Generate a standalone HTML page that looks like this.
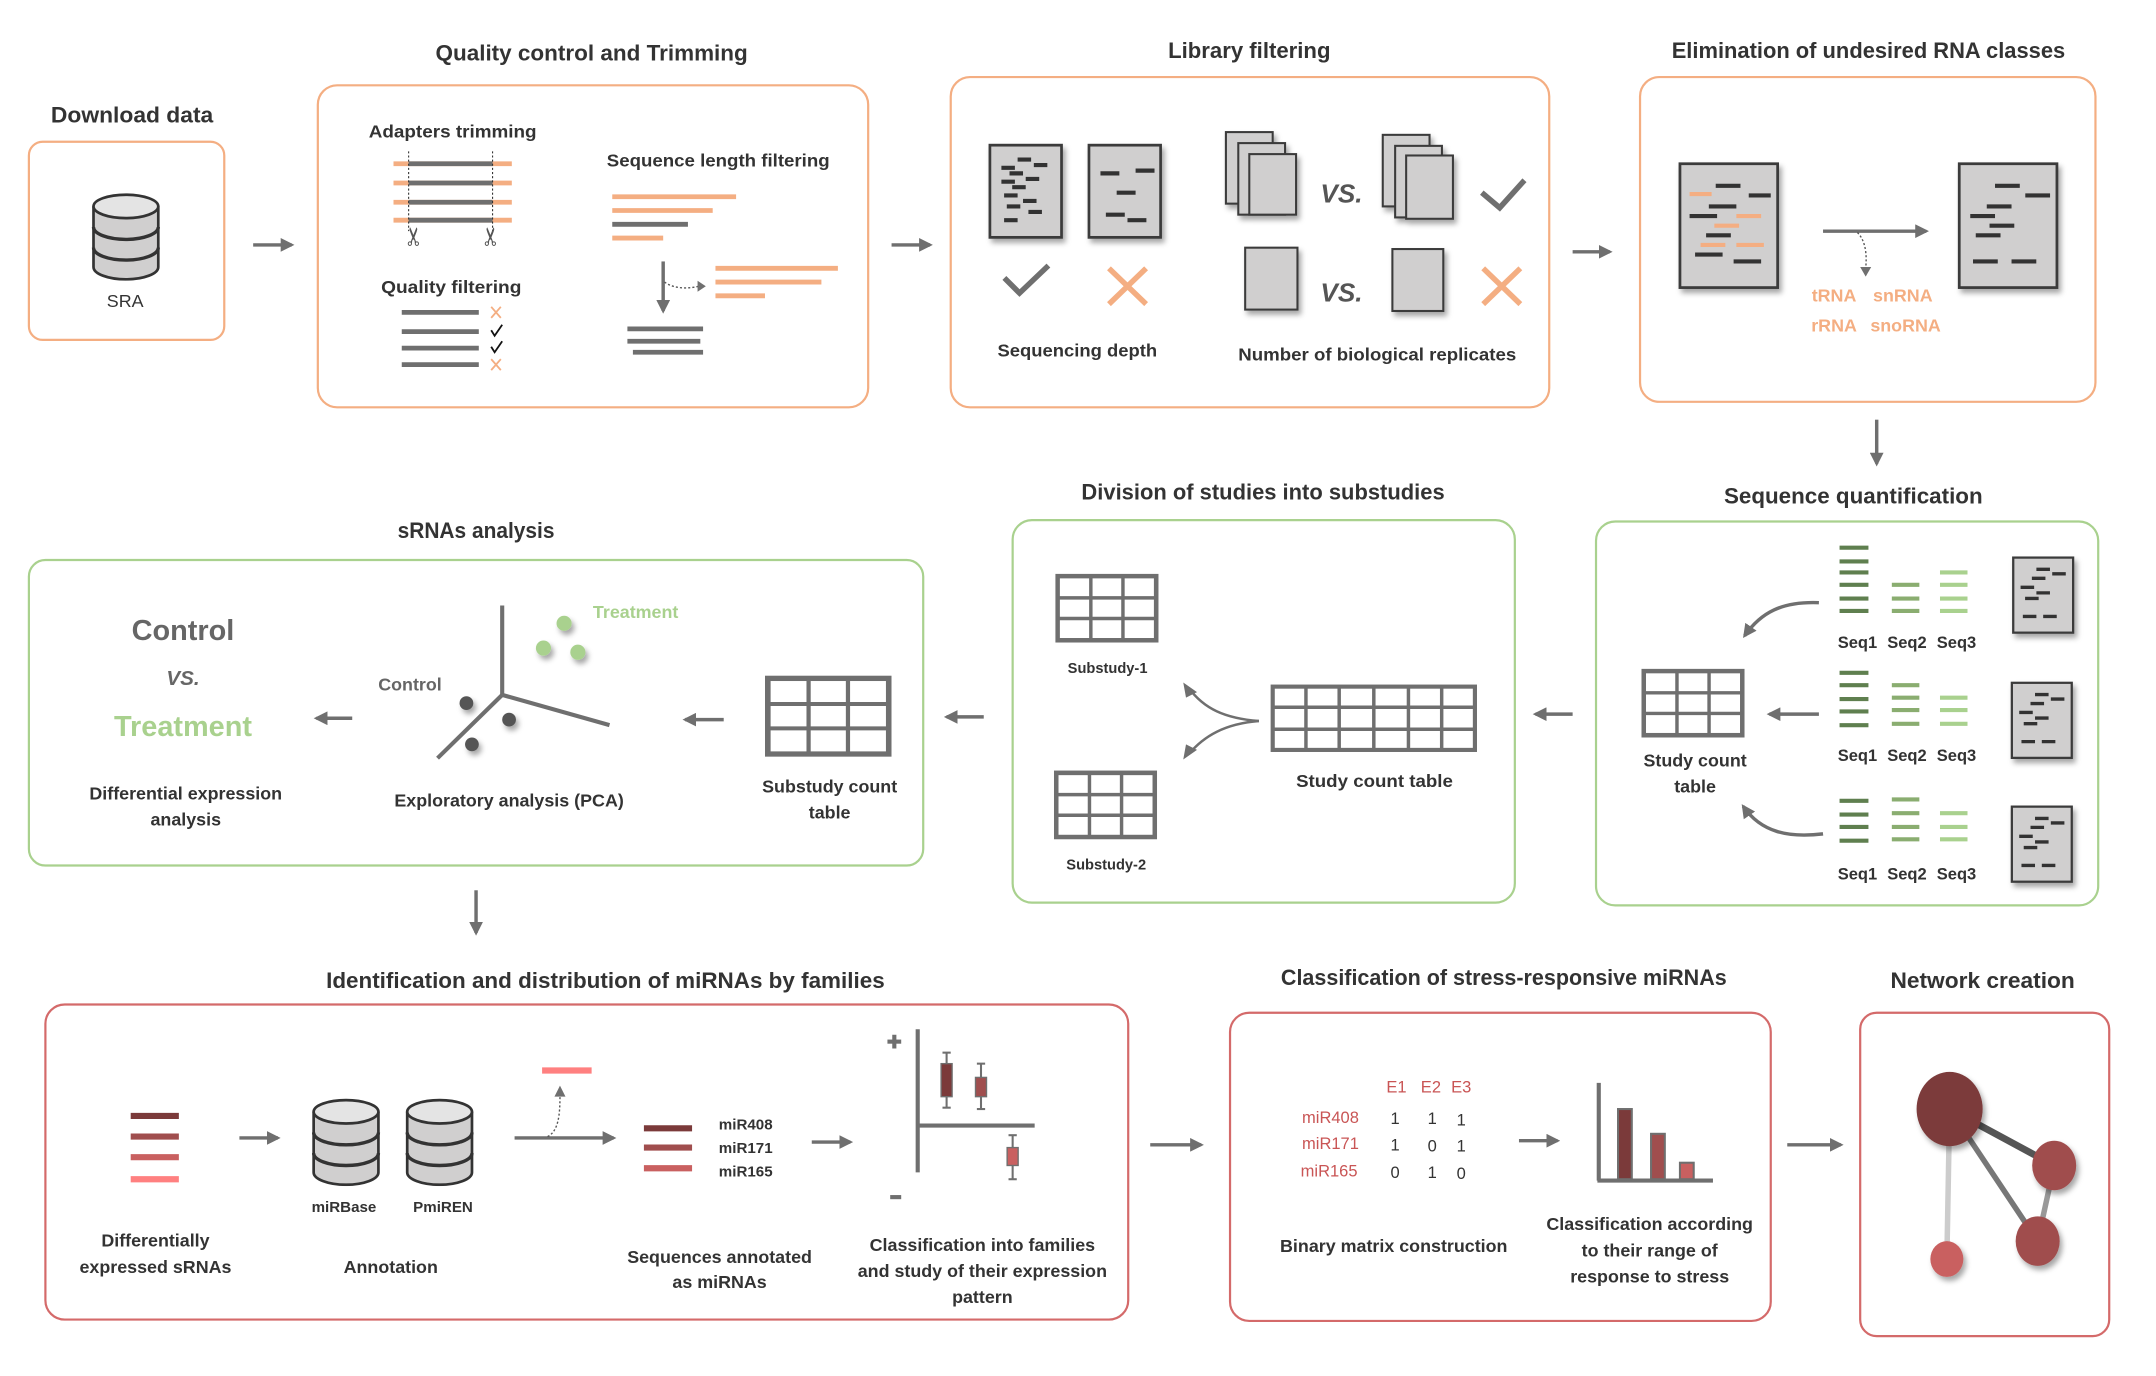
<!DOCTYPE html>
<html><head><meta charset="utf-8"><style>
html,body{margin:0;padding:0;background:#fff;}
svg{display:block;}
text{font-family:"Liberation Sans",sans-serif;fill:#333;font-weight:bold;text-anchor:middle;}
.t{font-size:16px;}
.l{font-size:13px;}
.s{font-size:11px;}
</style></head><body>
<svg width="2156" height="1376" viewBox="0 0 1567 1000" preserveAspectRatio="none" xmlns="http://www.w3.org/2000/svg">
<defs>
<marker id="ah" viewBox="0 0 10 10" refX="8" refY="5" markerWidth="4" markerHeight="4" orient="auto"><path d="M0,0L10,5L0,10z" fill="#6f6f6f"/></marker>
<filter id="sh" x="-20%" y="-20%" width="150%" height="150%"><feDropShadow dx="2" dy="3" stdDeviation="2" flood-color="#000" flood-opacity="0.35"/></filter>
<symbol id="doc" viewBox="0 0 56 70" preserveAspectRatio="none">
<rect x="1.5" y="1.5" width="53" height="67" fill="#d0cfcf" stroke="#3a3a3a" stroke-width="2"/>
<g stroke="#333" stroke-width="3">
<line x1="22" y1="12" x2="32" y2="12"/><line x1="10" y1="18" x2="20" y2="18"/><line x1="34" y1="16" x2="44" y2="16"/><line x1="16" y1="22" x2="26" y2="22"/>
<line x1="10" y1="28" x2="20" y2="28"/><line x1="28" y1="26" x2="38" y2="26"/><line x1="18" y1="32" x2="28" y2="32"/><line x1="12" y1="38" x2="22" y2="38"/>
<line x1="26" y1="42" x2="36" y2="42"/><line x1="14" y1="46" x2="24" y2="46"/><line x1="30" y1="50" x2="40" y2="50"/><line x1="12" y1="56" x2="22" y2="56"/>
</g></symbol>
<symbol id="doc2" viewBox="0 0 56 70" preserveAspectRatio="none">
<rect x="1.5" y="1.5" width="53" height="67" fill="#d0cfcf" stroke="#3a3a3a" stroke-width="2"/>
<g stroke="#333" stroke-width="3">
<line x1="22" y1="12" x2="34" y2="12"/><line x1="36" y1="16" x2="48" y2="16"/><line x1="18" y1="20" x2="30" y2="20"/>
<line x1="8" y1="28" x2="20" y2="28"/><line x1="22" y1="33" x2="34" y2="33"/><line x1="12" y1="38" x2="24" y2="38"/>
<line x1="10" y1="54" x2="22" y2="54"/><line x1="28" y1="54" x2="40" y2="54"/>
</g></symbol>
<symbol id="doc3" viewBox="0 0 56 70" preserveAspectRatio="none">
<rect x="1.5" y="1.5" width="53" height="67" fill="#d0cfcf" stroke="#3a3a3a" stroke-width="2"/>
<g stroke="#333" stroke-width="3">
<line x1="10" y1="22" x2="24" y2="22"/><line x1="36" y1="20" x2="50" y2="20"/><line x1="22" y1="36" x2="36" y2="36"/>
<line x1="14" y1="52" x2="28" y2="52"/><line x1="30" y1="56" x2="44" y2="56"/>
</g></symbol>
<symbol id="db" viewBox="0 0 52 64" preserveAspectRatio="none">
<path d="M2,10 V54 A24,9 0 0 0 50,54 V10" fill="#d0cfcf" stroke="#333" stroke-width="2"/>
<path d="M2,25 A24,9 0 0 0 50,25 M2,40 A24,9 0 0 0 50,40" fill="none" stroke="#333" stroke-width="2.5"/>
<ellipse cx="26" cy="10" rx="24" ry="8.5" fill="#e4e4e4" stroke="#333" stroke-width="2"/>
</symbol>
<symbol id="grid" viewBox="0 0 90 60" preserveAspectRatio="none">
<rect x="2" y="2" width="86" height="56" fill="#fff" stroke="#6f6f6f" stroke-width="4"/>
<g stroke="#6f6f6f" stroke-width="3"><line x1="31" y1="2" x2="31" y2="58"/><line x1="59" y1="2" x2="59" y2="58"/><line x1="2" y1="21" x2="88" y2="21"/><line x1="2" y1="39" x2="88" y2="39"/></g>
</symbol>
<symbol id="grid6" viewBox="0 0 150 50" preserveAspectRatio="none">
<rect x="2" y="2" width="146" height="46" fill="#fff" stroke="#6f6f6f" stroke-width="3"/>
<g stroke="#6f6f6f" stroke-width="2.5"><line x1="26" y1="2" x2="26" y2="48"/><line x1="50" y1="2" x2="50" y2="48"/><line x1="75" y1="2" x2="75" y2="48"/><line x1="100" y1="2" x2="100" y2="48"/><line x1="124" y1="2" x2="124" y2="48"/><line x1="2" y1="17" x2="148" y2="17"/><line x1="2" y1="33" x2="148" y2="33"/></g>
</symbol>
</defs>

<g fill="none" stroke-width="1.6">
<rect x="21" y="103" width="142" height="144" rx="10" stroke="#f4ae82"/>
<rect x="231" y="62" width="400" height="234" rx="14" stroke="#f4ae82"/>
<rect x="691" y="56" width="435" height="240" rx="14" stroke="#f4ae82"/>
<rect x="1192" y="56" width="331" height="236" rx="14" stroke="#f4ae82"/>
<rect x="1160" y="379" width="365" height="279" rx="14" stroke="#a9d18e"/>
<rect x="736" y="378" width="365" height="278" rx="14" stroke="#a9d18e"/>
<rect x="21" y="407" width="650" height="222" rx="12" stroke="#a9d18e"/>
<rect x="33" y="730" width="787" height="229" rx="14" stroke="#d46a6a"/>
<rect x="894" y="736" width="393" height="224" rx="14" stroke="#d46a6a"/>
<rect x="1352" y="736" width="181" height="235" rx="12" stroke="#d46a6a"/>
</g>

<text class="t" x="96" y="89" textLength="118" lengthAdjust="spacingAndGlyphs">Download data</text>
<text class="t" x="430" y="44" textLength="227" lengthAdjust="spacingAndGlyphs">Quality control and Trimming</text>
<text class="t" x="908" y="42" textLength="118" lengthAdjust="spacingAndGlyphs">Library filtering</text>
<text class="t" x="1358" y="42" textLength="286" lengthAdjust="spacingAndGlyphs">Elimination of undesired RNA classes</text>
<text class="t" x="1347" y="366" textLength="188" lengthAdjust="spacingAndGlyphs">Sequence quantification</text>
<text class="t" x="918" y="363" textLength="264" lengthAdjust="spacingAndGlyphs">Division of studies into substudies</text>
<text class="t" x="346" y="391" textLength="114" lengthAdjust="spacingAndGlyphs">sRNAs analysis</text>
<text class="t" x="440" y="718" textLength="406" lengthAdjust="spacingAndGlyphs">Identification and distribution of miRNAs by families</text>
<text class="t" x="1093" y="716" textLength="324" lengthAdjust="spacingAndGlyphs">Classification of stress-responsive miRNAs</text>
<text class="t" x="1441" y="718" textLength="134" lengthAdjust="spacingAndGlyphs">Network creation</text>

<g stroke="#6f6f6f" stroke-width="2.5" marker-end="url(#ah)" fill="none">
<line x1="184" y1="178" x2="212" y2="178"/>
<line x1="648" y1="178" x2="676" y2="178"/>
<line x1="1143" y1="183" x2="1170" y2="183"/>
<line x1="1364" y1="305" x2="1364" y2="337"/>
<line x1="1143" y1="519" x2="1116" y2="519"/>
<line x1="715" y1="521" x2="688" y2="521"/>
<line x1="526" y1="523" x2="498" y2="523"/>
<line x1="256" y1="522" x2="230" y2="522"/>
<line x1="346" y1="647" x2="346" y2="678"/>
<line x1="174" y1="827" x2="202" y2="827"/>
<line x1="374" y1="827" x2="446" y2="827"/>
<line x1="590" y1="830" x2="618" y2="830"/>
<line x1="836" y1="832" x2="873" y2="832"/>
<line x1="1104" y1="829" x2="1132" y2="829"/>
<line x1="1299" y1="832" x2="1338" y2="832"/>
<line x1="1325" y1="168" x2="1400" y2="168"/>
<line x1="1322" y1="519" x2="1286" y2="519"/>
<path d="M1322,438 C1295,437 1280,445 1268,462"/>
<path d="M1325,606 C1300,609 1280,605 1267,586"/>
<line x1="482" y1="190" x2="482" y2="226"/>
</g>

<use href="#db" x="66" y="140" width="51" height="64"/>
<text class="l" x="91" y="223" style="font-weight:normal">SRA</text>

<text class="l" x="329" y="100" textLength="122" lengthAdjust="spacingAndGlyphs">Adapters trimming</text>
<g stroke-width="3.5"><g stroke="#f4ae82"><line x1="286" y1="119" x2="372" y2="119"/><line x1="286" y1="133" x2="372" y2="133"/><line x1="286" y1="147" x2="372" y2="147"/><line x1="286" y1="160" x2="372" y2="160"/></g>
<g stroke="#6f6f6f"><line x1="297" y1="119" x2="358" y2="119"/><line x1="297" y1="133" x2="358" y2="133"/><line x1="297" y1="147" x2="358" y2="147"/><line x1="297" y1="160" x2="358" y2="160"/></g></g>
<g stroke="#333" stroke-width="0.8" stroke-dasharray="1.5,1.5"><line x1="297" y1="110" x2="297" y2="168"/><line x1="358" y1="110" x2="358" y2="168"/></g>
<text x="301" y="178" style="font-size:18px;fill:#555;font-weight:normal" transform="rotate(-90 301 172)">✂</text>
<text x="357" y="178" style="font-size:18px;fill:#555;font-weight:normal" transform="rotate(-90 357 172)">✂</text>
<text class="l" x="328" y="213" textLength="102" lengthAdjust="spacingAndGlyphs">Quality filtering</text>
<g stroke="#6f6f6f" stroke-width="3.5"><line x1="292" y1="227" x2="348" y2="227"/><line x1="292" y1="241" x2="348" y2="241"/><line x1="292" y1="253" x2="348" y2="253"/><line x1="292" y1="265" x2="348" y2="265"/></g>
<g stroke="#f4ae82" stroke-width="1.3"><path d="M357,223 L364,231 M364,223 L357,231"/><path d="M357,261 L364,269 M364,261 L357,269"/></g>
<g stroke="#111" stroke-width="1.3" fill="none"><path d="M357,240 L359.5,244 L365,236"/><path d="M357,252 L359.5,256 L365,248"/></g>
<text class="l" x="522" y="121" textLength="162" lengthAdjust="spacingAndGlyphs">Sequence length filtering</text>
<g stroke-width="3.5"><line x1="445" y1="143" x2="535" y2="143" stroke="#f4ae82"/><line x1="445" y1="153" x2="518" y2="153" stroke="#f4ae82"/><line x1="445" y1="163" x2="500" y2="163" stroke="#6f6f6f"/><line x1="445" y1="173" x2="482" y2="173" stroke="#f4ae82"/>
<line x1="520" y1="195" x2="609" y2="195" stroke="#f4ae82"/><line x1="520" y1="205" x2="597" y2="205" stroke="#f4ae82"/><line x1="520" y1="215" x2="556" y2="215" stroke="#f4ae82"/>
<line x1="456" y1="239" x2="511" y2="239" stroke="#6f6f6f"/><line x1="456" y1="248" x2="509" y2="248" stroke="#6f6f6f"/><line x1="460" y1="256" x2="511" y2="256" stroke="#6f6f6f"/></g>
<path d="M483,205 C490,210 500,210 508,208" fill="none" stroke="#555" stroke-width="1" stroke-dasharray="1.5,1.5"/>
<path d="M507,204 L513,208 L507,212z" fill="#6f6f6f"/>

<use href="#doc" x="718" y="104" width="55" height="70" filter="url(#sh)"/>
<use href="#doc3" x="790" y="104" width="55" height="70" filter="url(#sh)"/>
<path d="M730,202 L741,213 L762,193" fill="none" stroke="#6f6f6f" stroke-width="4"/>
<path d="M806,195 L833,221 M833,195 L806,221" stroke="#f4ae82" stroke-width="4"/>
<text class="l" x="783" y="259" textLength="116" lengthAdjust="spacingAndGlyphs">Sequencing depth</text>
<g fill="#d0cfcf" stroke="#3a3a3a" stroke-width="1.5" filter="url(#sh)">
<rect x="891" y="96" width="34" height="52"/><rect x="900" y="104" width="34" height="52"/><rect x="908" y="112" width="34" height="44"/>
<rect x="1005" y="98" width="34" height="52"/><rect x="1014" y="106" width="34" height="52"/><rect x="1022" y="113" width="34" height="46"/>
<rect x="905" y="180" width="38" height="45"/><rect x="1012" y="181" width="37" height="45"/></g>
<text x="975" y="147" style="font-size:19px;font-style:italic;fill:#555">VS.</text>
<text x="975" y="219" style="font-size:19px;font-style:italic;fill:#555">VS.</text>
<path d="M1077,140 L1090,151 L1108,131" fill="none" stroke="#6f6f6f" stroke-width="4"/>
<path d="M1078,195 L1105,221 M1105,195 L1078,221" stroke="#f4ae82" stroke-width="4"/>
<text class="l" x="1001" y="262" textLength="202" lengthAdjust="spacingAndGlyphs">Number of biological replicates</text>

<g filter="url(#sh)"><rect x="1221" y="119" width="71" height="90" fill="#d0cfcf" stroke="#3a3a3a" stroke-width="2"/>
<rect x="1424" y="119" width="71" height="90" fill="#d0cfcf" stroke="#3a3a3a" stroke-width="2"/></g>
<g stroke-width="3"><g stroke="#333"><line x1="1247" y1="135" x2="1265" y2="135"/><line x1="1271" y1="142" x2="1287" y2="142"/><line x1="1242" y1="150" x2="1262" y2="150"/><line x1="1228" y1="157" x2="1248" y2="157"/><line x1="1240" y1="171" x2="1258" y2="171"/><line x1="1232" y1="185" x2="1252" y2="185"/><line x1="1260" y1="190" x2="1280" y2="190"/></g>
<g stroke="#f4ae82"><line x1="1228" y1="141" x2="1244" y2="141"/><line x1="1262" y1="157" x2="1280" y2="157"/><line x1="1246" y1="164" x2="1264" y2="164"/><line x1="1262" y1="178" x2="1282" y2="178"/><line x1="1236" y1="178" x2="1254" y2="178"/></g>
<g stroke="#333"><line x1="1450" y1="135" x2="1468" y2="135"/><line x1="1472" y1="142" x2="1490" y2="142"/><line x1="1444" y1="150" x2="1462" y2="150"/><line x1="1432" y1="157" x2="1450" y2="157"/><line x1="1446" y1="164" x2="1464" y2="164"/><line x1="1436" y1="171" x2="1454" y2="171"/><line x1="1434" y1="190" x2="1452" y2="190"/><line x1="1462" y1="190" x2="1480" y2="190"/></g></g>
<path d="M1350,169 C1356,175 1357,185 1356,195" fill="none" stroke="#555" stroke-width="1" stroke-dasharray="1.5,1.5"/>
<path d="M1352,194 L1356,201 L1360,194z" fill="#6f6f6f"/>
<g style="fill:#f4ae82;font-size:13px"><text x="1333" y="219" style="fill:#f4ae82">tRNA</text><text x="1383" y="219" style="fill:#f4ae82">snRNA</text><text x="1333" y="241" style="fill:#f4ae82">rRNA</text><text x="1385" y="241" style="fill:#f4ae82">snoRNA</text></g>

<g stroke-width="3">
<g stroke="#5f7f4f"><line x1="1337" y1="398" x2="1358" y2="398"/><line x1="1337" y1="408" x2="1358" y2="408"/><line x1="1337" y1="416" x2="1358" y2="416"/><line x1="1337" y1="425" x2="1358" y2="425"/><line x1="1337" y1="435" x2="1358" y2="435"/><line x1="1337" y1="444" x2="1358" y2="444"/>
<line x1="1337" y1="489" x2="1358" y2="489"/><line x1="1337" y1="498" x2="1358" y2="498"/><line x1="1337" y1="508" x2="1358" y2="508"/><line x1="1337" y1="517" x2="1358" y2="517"/><line x1="1337" y1="527" x2="1358" y2="527"/>
<line x1="1337" y1="582" x2="1358" y2="582"/><line x1="1337" y1="592" x2="1358" y2="592"/><line x1="1337" y1="601" x2="1358" y2="601"/><line x1="1337" y1="611" x2="1358" y2="611"/></g>
<g stroke="#8aad70"><line x1="1375" y1="425" x2="1395" y2="425"/><line x1="1375" y1="435" x2="1395" y2="435"/><line x1="1375" y1="444" x2="1395" y2="444"/>
<line x1="1375" y1="498" x2="1395" y2="498"/><line x1="1375" y1="507" x2="1395" y2="507"/><line x1="1375" y1="516" x2="1395" y2="516"/><line x1="1375" y1="526" x2="1395" y2="526"/>
<line x1="1375" y1="581" x2="1395" y2="581"/><line x1="1375" y1="591" x2="1395" y2="591"/><line x1="1375" y1="601" x2="1395" y2="601"/><line x1="1375" y1="610" x2="1395" y2="610"/></g>
<g stroke="#a9d18e"><line x1="1410" y1="416" x2="1430" y2="416"/><line x1="1410" y1="425" x2="1430" y2="425"/><line x1="1410" y1="435" x2="1430" y2="435"/><line x1="1410" y1="444" x2="1430" y2="444"/>
<line x1="1410" y1="507" x2="1430" y2="507"/><line x1="1410" y1="516" x2="1430" y2="516"/><line x1="1410" y1="526" x2="1430" y2="526"/>
<line x1="1410" y1="591" x2="1430" y2="591"/><line x1="1410" y1="601" x2="1430" y2="601"/><line x1="1410" y1="610" x2="1430" y2="610"/></g></g>
<g>
<text x="1350" y="471" style="font-size:12px">Seq1</text><text x="1386" y="471" style="font-size:12px">Seq2</text><text x="1422" y="471" style="font-size:12px">Seq3</text>
<text x="1350" y="553" style="font-size:12px">Seq1</text><text x="1386" y="553" style="font-size:12px">Seq2</text><text x="1422" y="553" style="font-size:12px">Seq3</text>
<text x="1350" y="639" style="font-size:12px">Seq1</text><text x="1386" y="639" style="font-size:12px">Seq2</text><text x="1422" y="639" style="font-size:12px">Seq3</text></g>
<use href="#doc2" x="1462" y="404" width="46" height="57" filter="url(#sh)"/>
<use href="#doc2" x="1461" y="495" width="46" height="57" filter="url(#sh)"/>
<use href="#doc2" x="1461" y="585" width="46" height="57" filter="url(#sh)"/>
<use href="#grid" x="1193" y="486" width="75" height="50"/>
<text class="l" x="1232" y="557">Study count</text><text class="l" x="1232" y="576">table</text>

<use href="#grid" x="767" y="417" width="75" height="50"/>
<text class="s" x="805" y="489" textLength="58" lengthAdjust="spacingAndGlyphs">Substudy-1</text>
<use href="#grid" x="766" y="560" width="75" height="50"/>
<text class="s" x="804" y="632" textLength="58" lengthAdjust="spacingAndGlyphs">Substudy-2</text>
<use href="#grid6" x="923" y="497" width="151" height="50"/>
<text class="l" x="999" y="572" textLength="114" lengthAdjust="spacingAndGlyphs">Study count table</text>
<g fill="none" stroke="#6f6f6f" stroke-width="1.8"><path d="M915,524 C890,522 875,515 864,500"/><path d="M915,524 C890,526 875,535 864,548"/></g>
<path d="M860,496 L870,503 L862,507z M860,552 L870,545 L862,541z" fill="#6f6f6f"/>

<use href="#grid" x="556" y="491" width="92" height="59"/>
<text class="l" x="603" y="576">Substudy count</text><text class="l" x="603" y="595">table</text>
<g stroke="#6f6f6f" stroke-width="3" fill="none"><line x1="365" y1="505" x2="365" y2="440"/><line x1="365" y1="505" x2="318" y2="551"/><line x1="365" y1="505" x2="443" y2="527"/></g>
<g fill="#555" filter="url(#sh)"><circle cx="339" cy="511" r="5"/><circle cx="370" cy="523" r="5"/><circle cx="343" cy="541" r="5"/></g>
<g fill="#a9d18e" filter="url(#sh)"><circle cx="410" cy="453" r="5.5"/><circle cx="395" cy="471" r="5.5"/><circle cx="420" cy="474" r="5.5"/></g>
<text x="462" y="449" style="font-size:13px;fill:#a9d18e">Treatment</text>
<text x="298" y="502" style="font-size:13px;fill:#666">Control</text>
<text class="l" x="370" y="586">Exploratory analysis (PCA)</text>
<text x="133" y="465" style="font-size:21px;fill:#666">Control</text>
<text x="133" y="498" style="font-size:15px;font-style:italic;fill:#666">VS.</text>
<text x="133" y="535" style="font-size:21px;fill:#a9d18e">Treatment</text>
<text class="l" x="135" y="581">Differential expression</text><text class="l" x="135" y="600">analysis</text>

<g stroke-width="4.5"><line x1="95" y1="811" x2="130" y2="811" stroke="#7b3a3a"/><line x1="95" y1="826" x2="130" y2="826" stroke="#a04e4e"/><line x1="95" y1="841" x2="130" y2="841" stroke="#c96060"/><line x1="95" y1="857" x2="130" y2="857" stroke="#ff8080"/>
<line x1="394" y1="778" x2="430" y2="778" stroke="#ff8080"/>
<line x1="468" y1="820" x2="503" y2="820" stroke="#7b3a3a"/><line x1="468" y1="834" x2="503" y2="834" stroke="#a04e4e"/><line x1="468" y1="849" x2="503" y2="849" stroke="#c96060"/></g>
<use href="#db" x="226" y="798" width="51" height="64"/>
<use href="#db" x="294" y="798" width="51" height="64"/>
<text class="s" x="250" y="881">miRBase</text><text class="s" x="322" y="881">PmiREN</text>
<text class="l" x="113" y="906">Differentially</text><text class="l" x="113" y="925">expressed sRNAs</text>
<text class="l" x="284" y="925">Annotation</text>
<path d="M398,826 C406,822 407,810 407,796" fill="none" stroke="#555" stroke-width="1" stroke-dasharray="1.5,1.5"/>
<path d="M403,797 L407,789 L411,797z" fill="#6f6f6f"/>
<text class="s" x="542" y="821">miR408</text><text class="s" x="542" y="838">miR171</text><text class="s" x="542" y="855">miR165</text>
<text class="l" x="523" y="918">Sequences annotated</text><text class="l" x="523" y="936">as miRNAs</text>
<g stroke="#6f6f6f" stroke-width="3"><line x1="667" y1="748" x2="667" y2="852"/><line x1="667" y1="818" x2="752" y2="818"/>
<line x1="645" y1="757" x2="655" y2="757"/><line x1="650" y1="752" x2="650" y2="762"/><line x1="647" y1="870" x2="655" y2="870"/></g>
<g stroke="#6f6f6f" stroke-width="1.5"><line x1="688" y1="765" x2="688" y2="805"/><line x1="713" y1="773" x2="713" y2="806"/><line x1="736" y1="825" x2="736" y2="857"/>
<line x1="685" y1="765" x2="691" y2="765"/><line x1="685" y1="805" x2="691" y2="805"/><line x1="710" y1="773" x2="716" y2="773"/><line x1="710" y1="806" x2="716" y2="806"/><line x1="733" y1="825" x2="739" y2="825"/><line x1="733" y1="857" x2="739" y2="857"/></g>
<rect x="684" y="773" width="8" height="24" fill="#7b3a3a" stroke="#6f6f6f"/>
<rect x="709" y="783" width="8" height="14" fill="#a04e4e" stroke="#6f6f6f"/>
<rect x="732" y="834" width="8" height="13" fill="#c96060" stroke="#6f6f6f"/>
<text class="l" x="714" y="909">Classification into families</text><text class="l" x="714" y="928">and study of their expression</text><text class="l" x="714" y="947">pattern</text>

<g>
<text x="1015" y="794" style="font-size:12px;font-weight:normal;fill:#c95555">E1</text><text x="1040" y="794" style="font-size:12px;font-weight:normal;fill:#c95555">E2</text><text x="1062" y="794" style="font-size:12px;font-weight:normal;fill:#c95555">E3</text>
<text x="967" y="816" style="font-size:12px;font-weight:normal;fill:#c95555">miR408</text><text x="967" y="835" style="font-size:12px;font-weight:normal;fill:#c95555">miR171</text><text x="966" y="855" style="font-size:12px;font-weight:normal;fill:#c95555">miR165</text>
<text x="1014" y="817" style="font-size:12px;font-weight:normal">1</text><text x="1041" y="817" style="font-size:12px;font-weight:normal">1</text><text x="1062" y="818" style="font-size:12px;font-weight:normal">1</text>
<text x="1014" y="836" style="font-size:12px;font-weight:normal">1</text><text x="1041" y="837" style="font-size:12px;font-weight:normal">0</text><text x="1062" y="837" style="font-size:12px;font-weight:normal">1</text>
<text x="1014" y="856" style="font-size:12px;font-weight:normal">0</text><text x="1041" y="856" style="font-size:12px;font-weight:normal">1</text><text x="1062" y="857" style="font-size:12px;font-weight:normal">0</text></g>
<text class="l" x="1013" y="910">Binary matrix construction</text>
<g stroke="#6f6f6f" stroke-width="3" fill="none"><line x1="1162" y1="787" x2="1162" y2="858"/><line x1="1161" y1="858" x2="1245" y2="858"/></g>
<rect x="1176" y="806" width="10" height="51" fill="#7b3a3a" stroke="#6f6f6f" stroke-width="1.5"/>
<rect x="1200" y="824" width="10" height="33" fill="#a04e4e" stroke="#6f6f6f" stroke-width="1.5"/>
<rect x="1221" y="845" width="10" height="12" fill="#c96060" stroke="#6f6f6f" stroke-width="1.5"/>
<text class="l" x="1199" y="894">Classification according</text><text class="l" x="1199" y="913">to their range of</text><text class="l" x="1199" y="932">response to stress</text>

<g stroke-linecap="round"><line x1="1417" y1="806" x2="1493" y2="847" stroke="#555" stroke-width="5"/><line x1="1417" y1="806" x2="1481" y2="902" stroke="#777" stroke-width="4"/>
<line x1="1493" y1="847" x2="1481" y2="902" stroke="#999" stroke-width="4"/><line x1="1417" y1="806" x2="1415" y2="915" stroke="#ccc" stroke-width="4"/></g>
<g filter="url(#sh)"><ellipse cx="1417" cy="806" rx="24" ry="27" fill="#7b3a3a"/><ellipse cx="1493" cy="847" rx="16" ry="18" fill="#a04e4e"/><ellipse cx="1481" cy="902" rx="16" ry="18" fill="#a04e4e"/><ellipse cx="1415" cy="915" rx="12" ry="13" fill="#c96060"/></g>
</svg>
</body></html>
